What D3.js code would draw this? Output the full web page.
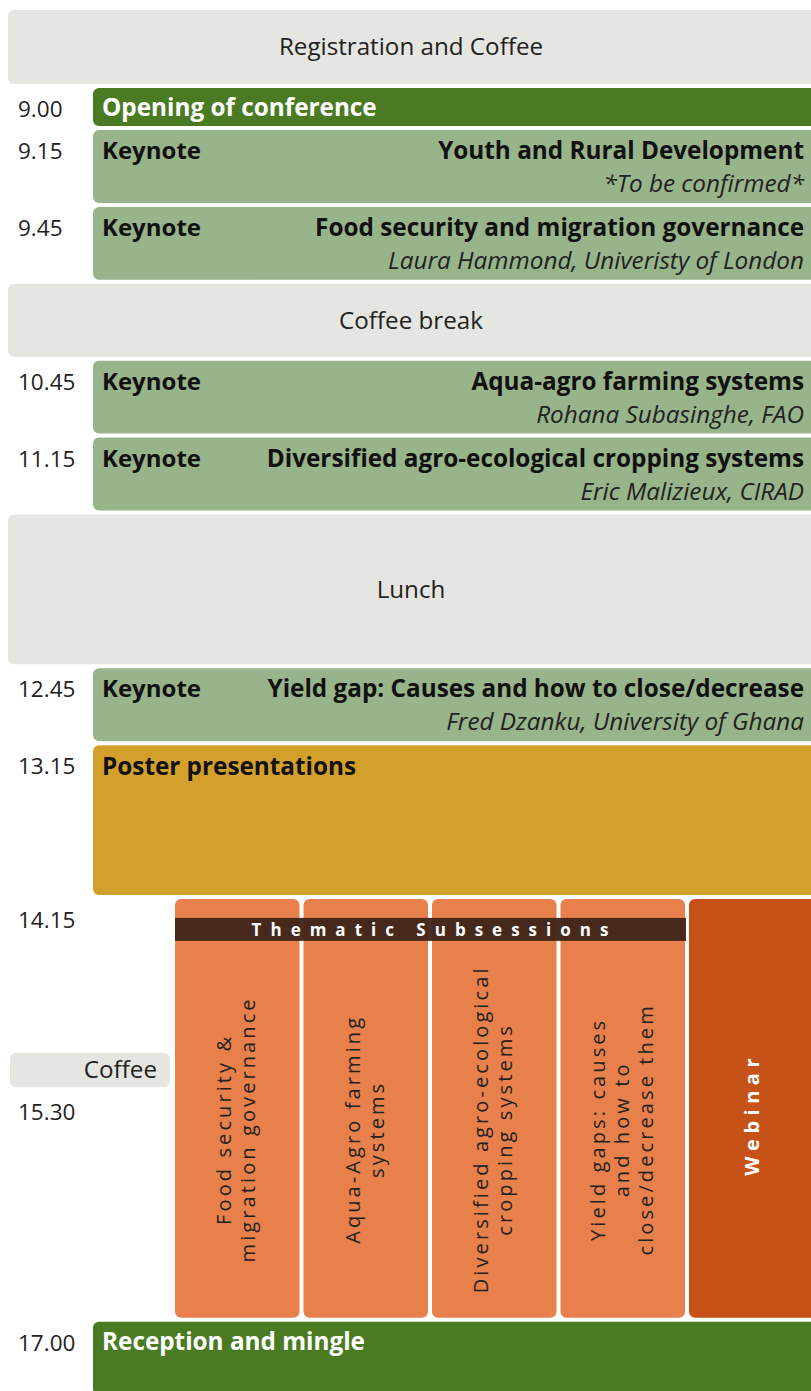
<!DOCTYPE html>
<html>
<head>
<meta charset="utf-8">
<script src="https://cdn.jsdelivr.net/npm/d3@7"></script>
<style>
  body { margin: 0; background: #fff; }
  svg { display: block; font-family: "Open Sans", sans-serif; }
</style>
</head>
<body>
<svg id="schedule" width="811" height="1391"></svg>
<script>
// programme rows: start, end, kind, title, speaker
const sessions = [
    { start: "8.30",  end: "9.00",  kind: "break",   title: "Registration and Coffee" },
    { start: "9.00",  end: "9.15",  kind: "opening", title: "Opening of conference" },
    { start: "9.15",  end: "9.45",  kind: "keynote", title: "Youth and Rural Development", speaker: "*To be confirmed*" },
    { start: "9.45",  end: "10.15", kind: "keynote", title: "Food security and migration governance", speaker: "Laura Hammond, Univeristy of London" },
    { start: "10.15", end: "10.45", kind: "break",   title: "Coffee break" },
    { start: "10.45", end: "11.15", kind: "keynote", title: "Aqua-agro farming systems", speaker: "Rohana Subasinghe, FAO" },
    { start: "11.15", end: "11.45", kind: "keynote", title: "Diversified agro-ecological cropping systems", speaker: "Eric Malizieux, CIRAD" },
    { start: "11.45", end: "12.45", kind: "break",   title: "Lunch" },
    { start: "12.45", end: "13.15", kind: "keynote", title: "Yield gap: Causes and how to close/decrease", speaker: "Fred Dzanku, University of Ghana" },
    { start: "13.15", end: "14.15", kind: "poster",  title: "Poster presentations" },
    { start: "17.00", end: "17.30", kind: "opening", title: "Reception and mingle" }
];

const timeLabels = ["9.00", "9.15", "9.45", "10.45", "11.15", "12.45", "13.15", "14.15", "15.30", "17.00"];

// parallel afternoon block
const subStart = "14.15";
const subEnd = "17.00";
const subHeader = "Thematic Subsessions";
const subsessions = [
    ["Food security &", "migration governance"],
    ["Aqua-Agro farming", "systems"],
    ["Diversified agro-ecological", "cropping systems"],
    ["Yield gaps: causes", "and how to", "close/decrease them"]
];
const webinar = "Webinar";
const sideCoffee = { start: "15.15", end: "15.30", title: "Coffee" };

const colors = {
    break: "#e5e6e1",
    opening: "#4a7b23",
    keynote: "#98b48a",
    poster: "#d3a02c",
    sub: "#e8804b",
    webinar: "#c75218",
    band: "#3e2418"
};

const svg = d3.select("#schedule");
const mins = s => { let p = s.split("."); return +p[0] * 60 + +p[1]; };

// time runs down the page (the opening slot is drawn a little taller)
const y = d3.scaleLinear()
    .domain([mins("8.30"), mins("9.00"), mins("9.15"), mins("17.30")])
    .range([10, 88, 130, 1398.7]);
const gap = 4;
const left = 93, right = 830, fullLeft = 8;

// block rectangles
svg.selectAll(".block")
    .data(sessions)
    .join("rect")
    .attr("class", "block")
    .attr("x", d => d.kind == "break" ? fullLeft : left)
    .attr("y", d => y(mins(d.start)))
    .attr("width", d => right - (d.kind == "break" ? fullLeft : left))
    .attr("height", d => y(mins(d.end)) - y(mins(d.start)) - gap)
    .attr("rx", 6)
    .attr("fill", d => colors[d.kind]);

// break labels centred
svg.selectAll(".break-label")
    .data(sessions.filter(d => d.kind == "break"))
    .join("text")
    .attr("x", 411)
    .attr("y", d => (y(mins(d.start)) + y(mins(d.end)) - gap) / 2)
    .attr("dy", "0.35em")
    .attr("text-anchor", "middle")
    .style("font-size", "24.2px")
    .style("fill", "#222")
    .text(d => d.title);

// opening / poster titles on the left
svg.selectAll(".left-label")
    .data(sessions.filter(d => d.kind == "opening" || d.kind == "poster"))
    .join("text")
    .attr("x", 102)
    .attr("y", d => y(mins(d.start)) + (d.kind == "poster" ? 30 : 28))
    .style("font-size", "24.3px")
    .style("font-weight", "bold")
    .style("fill", d => d.kind == "opening" ? "#fff" : "#111")
    .text(d => d.title);

// keynotes
let keynotes = sessions.filter(d => d.kind == "keynote");
svg.selectAll(".kn-label")
    .data(keynotes)
    .join("text")
    .attr("x", 102)
    .attr("y", d => y(mins(d.start)) + 29)
    .style("font-size", "24px")
    .style("font-weight", "bold")
    .style("fill", "#111")
    .text("Keynote");
svg.selectAll(".kn-title")
    .data(keynotes)
    .join("text")
    .attr("x", 804)
    .attr("y", d => y(mins(d.start)) + 29)
    .attr("text-anchor", "end")
    .style("font-size", "24.3px")
    .style("font-weight", "bold")
    .style("fill", "#111")
    .text(d => d.title);
svg.selectAll(".kn-speaker")
    .data(keynotes)
    .join("text")
    .attr("x", 804)
    .attr("y", d => y(mins(d.start)) + 62)
    .attr("text-anchor", "end")
    .style("font-size", "24.3px")
    .style("font-style", "italic")
    .style("fill", "#222")
    .text(d => d.speaker);

// subsession columns
const cols = d3.scaleBand()
    .domain(d3.range(subsessions.length + 1))
    .range([175, 813.5])
    .paddingInner(0.031)
    .paddingOuter(0);
const subTop = y(mins(subStart));
const subBottom = y(mins(subEnd)) - gap;

svg.selectAll(".col")
    .data(d3.range(subsessions.length + 1))
    .join("rect")
    .attr("x", i => cols(i))
    .attr("y", subTop)
    .attr("width", i => i == subsessions.length ? right - cols(i) : cols.bandwidth())
    .attr("height", subBottom - subTop)
    .attr("rx", 6)
    .attr("fill", i => i == subsessions.length ? colors.webinar : colors.sub);

// header band across the four themes
let bandX0 = cols(0), bandX1 = cols(subsessions.length - 1) + cols.bandwidth() + 1;
svg.append("rect")
    .attr("x", bandX0)
    .attr("y", subTop + 19)
    .attr("width", bandX1 - bandX0)
    .attr("height", 23)
    .attr("fill", colors.band)
    .attr("fill-opacity", 0.95);
svg.append("text")
    .attr("x", (bandX0 + bandX1) / 2 + 4)
    .attr("y", subTop + 37)
    .attr("text-anchor", "middle")
    .style("font-size", "17px")
    .style("font-weight", "bold")
    .style("letter-spacing", "9px")
    .style("fill", "#fff")
    .text(subHeader);

// rotated theme titles
let midY = (subTop + 42 + subBottom) / 2;
subsessions.forEach((lines, i) => {
    let cx = cols(i) + cols.bandwidth() / 2;
    let n = lines.length;
    let t = svg.append("text")
        .attr("transform", "translate(" + (cx + 6 - (n - 1) * 12) + "," + midY + ") rotate(-90)")
        .attr("text-anchor", "middle")
        .style("font-size", "20px")
        .style("letter-spacing", "3.1px")
        .style("fill", "#222");
    lines.forEach((l, j) => {
        t.append("tspan").attr("x", 0).attr("dy", j == 0 ? 0 : 24).text(l);
    });
});
let wx = cols(subsessions.length) + cols.bandwidth() / 2;
svg.append("text")
    .attr("transform", "translate(" + (wx + 8) + "," + ((subTop + subBottom) / 2 + 6) + ") rotate(-90)")
    .attr("text-anchor", "middle")
    .style("font-size", "20px")
    .style("font-weight", "bold")
    .style("letter-spacing", "5.5px")
    .style("fill", "#fff")
    .text(webinar);

// small coffee box in the time column
svg.append("rect")
    .attr("x", 10)
    .attr("y", y(mins(sideCoffee.start)))
    .attr("width", 160)
    .attr("height", y(mins(sideCoffee.end)) - y(mins(sideCoffee.start)) - gap)
    .attr("rx", 6)
    .attr("fill", colors.break);
svg.append("text")
    .attr("x", 157)
    .attr("y", (y(mins(sideCoffee.start)) + y(mins(sideCoffee.end)) - gap) / 2)
    .attr("dy", "0.35em")
    .attr("text-anchor", "end")
    .style("font-size", "24.2px")
    .style("fill", "#222")
    .text(sideCoffee.title);

// time labels
svg.selectAll(".time")
    .data(timeLabels)
    .join("text")
    .attr("x", 18)
    .attr("y", d => y(mins(d)) + 29)
    .style("font-size", "22.5px")
    .style("fill", "#222")
    .text(d => d);
</script>
</body>
</html>
